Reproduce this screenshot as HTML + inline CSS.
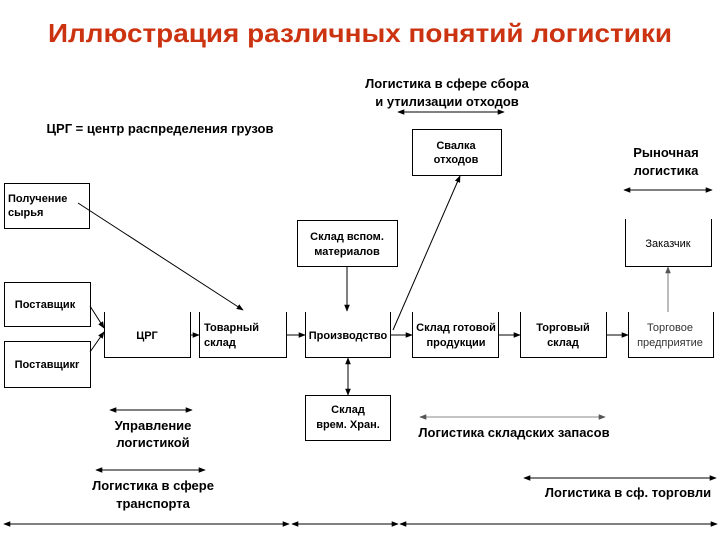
<!DOCTYPE html>
<html><head><meta charset="utf-8"><style>
html,body{margin:0;padding:0;background:#fff}
svg{display:block}
text{font-family:"Liberation Sans",Arial,sans-serif}
</style></head><body>
<svg width="720" height="540" viewBox="0 0 720 540" xmlns="http://www.w3.org/2000/svg">
<defs>
<marker id="a" viewBox="0 0 10 10" refX="9" refY="5" markerWidth="7" markerHeight="7" orient="auto-start-reverse" markerUnits="userSpaceOnUse"><path d="M0,1 L10,5 L0,9 z" fill="#000"/></marker>
<marker id="g" viewBox="0 0 10 10" refX="9" refY="5" markerWidth="7" markerHeight="7" orient="auto-start-reverse" markerUnits="userSpaceOnUse"><path d="M0,1 L10,5 L0,9 z" fill="#555"/></marker>
</defs>
<text x="360" y="42" text-anchor="middle" font-size="26" font-weight="bold" fill="#cc3311" textLength="624" lengthAdjust="spacingAndGlyphs">Иллюстрация различных понятий логистики</text>

<g font-size="13" font-weight="bold" fill="#000" text-anchor="middle">
<text x="447" y="88">Логистика в сфере сбора</text>
<text x="447" y="106">и утилизации отходов</text>
<text x="160" y="133">ЦРГ = центр распределения грузов</text>
<text x="666" y="157">Рыночная</text>
<text x="666" y="175">логистика</text>
<text x="153" y="430">Управление</text>
<text x="153" y="447">логистикой</text>
<text x="153" y="490">Логистика в сфере</text>
<text x="153" y="508">транспорта</text>
<text x="514" y="437">Логистика складских запасов</text>
<text x="628" y="497">Логистика в сф. торговли</text>
</g>

<g fill="none" stroke="#000" stroke-width="1">
<rect x="4.5" y="183.5" width="85" height="45"/>
<rect x="4.5" y="282.5" width="86" height="44"/>
<rect x="4.5" y="341.5" width="86" height="46"/>
<rect x="297.5" y="220.5" width="100" height="46"/>
<rect x="412.5" y="129.5" width="89" height="46"/>
<rect x="305.5" y="395.5" width="85" height="45"/>
<path d="M104.5,312 V357.5 H190.5 V312"/>
<path d="M199.5,312 V357.5 H286.5 V312"/>
<path d="M305.5,312 V357.5 H390.5 V312"/>
<path d="M412.5,312 V357.5 H498.5 V312"/>
<path d="M520.5,312 V357.5 H606.5 V312"/>
<path d="M628.5,312 V357.5 H713.5 V312"/>
<path d="M625.5,219 V266.5 H711.5 V219"/>
</g>

<g font-size="11" font-weight="bold" fill="#000" text-anchor="middle">
<text x="8" y="202" text-anchor="start">Получение</text>
<text x="8" y="216" text-anchor="start">сырья</text>
<text x="45" y="308">Поставщик</text>
<text x="47" y="368">Поставщикr</text>
<text x="347" y="240">Склад  вспом.</text>
<text x="347" y="255">материалов</text>
<text x="456" y="149">Свалка</text>
<text x="456" y="163">отходов</text>
<text x="668" y="247" font-weight="normal">Заказчик</text>
<text x="147" y="339">ЦРГ</text>
<text x="204" y="331" text-anchor="start">Товарный</text>
<text x="204" y="346" text-anchor="start">склад</text>
<text x="348" y="339">Производство</text>
<text x="456" y="331">Склад готовой</text>
<text x="456" y="346">продукции</text>
<text x="563" y="331">Торговый</text>
<text x="563" y="346">склад</text>
<text x="670" y="331" font-weight="normal" fill="#333">Торговое</text>
<text x="670" y="346" font-weight="normal" fill="#333">предприятие</text>
<text x="348" y="413">Склад</text>
<text x="348" y="428">врем. Хран.</text>
</g>

<g stroke="#000" stroke-width="1" fill="none">
<line x1="78" y1="203" x2="243" y2="310" marker-end="url(#a)"/>
<line x1="90" y1="306" x2="104" y2="328" marker-end="url(#a)"/>
<line x1="90" y1="352" x2="104" y2="332" marker-end="url(#a)"/>
<line x1="190" y1="335" x2="199" y2="335" marker-end="url(#a)"/>
<line x1="286" y1="335" x2="305" y2="335" marker-end="url(#a)"/>
<line x1="390" y1="335" x2="412" y2="335" marker-end="url(#a)"/>
<line x1="498" y1="335" x2="520" y2="335" marker-end="url(#a)"/>
<line x1="606" y1="335" x2="628" y2="335" marker-end="url(#a)"/>
<line x1="347" y1="267" x2="347" y2="311" marker-end="url(#a)"/>
<line x1="348" y1="358" x2="348" y2="395" marker-start="url(#a)" marker-end="url(#a)"/>
<line x1="393" y1="330" x2="460" y2="176" marker-end="url(#a)"/>
<line x1="668" y1="312" x2="668" y2="267" stroke="#777" marker-end="url(#g)"/>
<line x1="398" y1="112" x2="504" y2="112" marker-start="url(#a)" marker-end="url(#a)"/>
<line x1="624" y1="190" x2="712" y2="190" marker-start="url(#a)" marker-end="url(#a)"/>
<line x1="110" y1="410" x2="192" y2="410" marker-start="url(#a)" marker-end="url(#a)"/>
<line x1="96" y1="470" x2="205" y2="470" marker-start="url(#a)" marker-end="url(#a)"/>
<line x1="420" y1="417" x2="605" y2="417" stroke="#888" marker-start="url(#g)" marker-end="url(#g)"/>
<line x1="524" y1="478" x2="716" y2="478" marker-start="url(#a)" marker-end="url(#a)"/>
<line x1="4" y1="524" x2="289" y2="524" marker-start="url(#a)" marker-end="url(#a)"/>
<line x1="292" y1="524" x2="398" y2="524" marker-start="url(#a)" marker-end="url(#a)"/>
<line x1="400" y1="524" x2="717" y2="524" marker-start="url(#a)" marker-end="url(#a)"/>
</g>
</svg>
</body></html>
